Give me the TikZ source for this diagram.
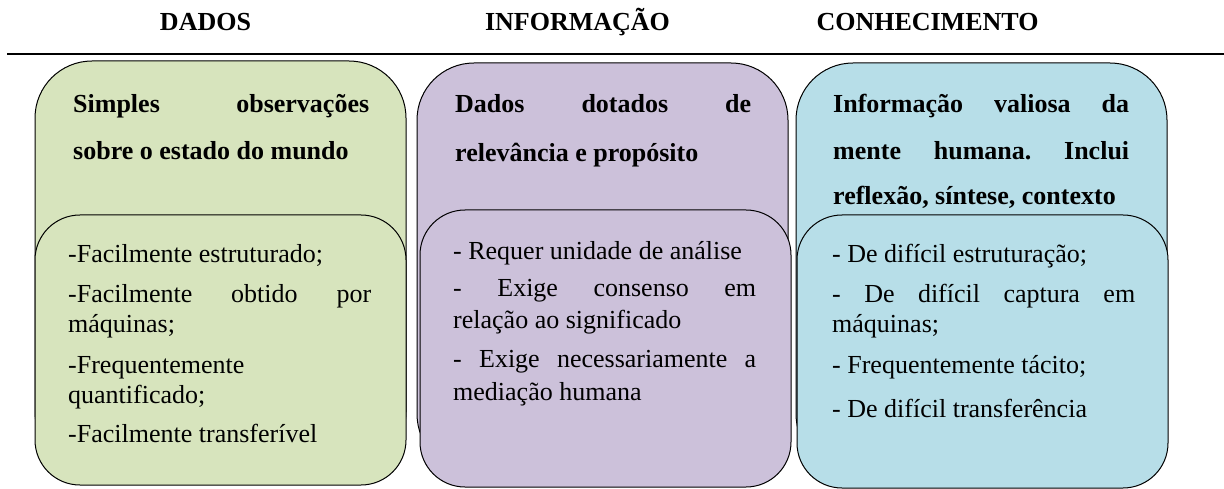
\documentclass[tikz,border=0pt]{standalone}
\usepackage{fontspec}
\setmainfont{Liberation Serif}
\definecolor{cgreen}{HTML}{D7E4BD}
\definecolor{cpurple}{HTML}{CCC1DA}
\definecolor{cblue}{HTML}{B7DEE8}
\newcommand{\JustH}[1]{\makebox[296pt][s]{#1}}
\newcommand{\JustB}[1]{\makebox[303pt][s]{#1}}
\frenchspacing
\begin{document}
\begin{tikzpicture}[x=1pt,y=-1pt,
  outerbox/.style={draw=black, line width=1pt, rounded corners=57pt, fill=#1,
    minimum width=371pt, minimum height=408pt, anchor=north west, inner sep=0pt, outer sep=0pt},
  innerbox/.style={draw=black, line width=1pt, rounded corners=45pt, fill=#1,
    minimum width=371pt, minimum height=272pt, anchor=north west, inner sep=0pt, outer sep=0pt},
  ttl/.style={font=\fontsize{26}{31}\selectfont\bfseries, anchor=base, inner sep=0pt},
  hd/.style={font=\fontsize{26}{31}\selectfont\bfseries, anchor=base west, inner sep=0pt},
  bd/.style={font=\fontsize{26}{31}\selectfont, anchor=base west, inner sep=0pt},
  rule/.style={line width=1.5pt}
]
\useasboundingbox (0,0) rectangle (1224,489);

% titles
\node[ttl] (t1) at (205.5,31) {DADOS};
\node[ttl] (t2) at (577.5,31) {INFORMAÇÃO};
\node[ttl] (t3) at (927.5,31) {CONHECIMENTO};
\coordinate (ruleL) at (7,54);
\coordinate (ruleR) at (1224,54);
\draw[rule] (ruleL) -- (ruleR);

% boxes
\node[outerbox=cgreen] (g1) at (35,61) {};
\node[outerbox=cpurple] (p1) at (417,63) {};
\node[outerbox=cblue] (b1) at (796,63) {};
\node[innerbox=cgreen, minimum height=270pt] (g2) at (35,215) {};
\node[innerbox=cpurple, minimum height=277pt] (p2) at (420,210) {};
\node[innerbox=cblue, minimum height=273pt] (b2) at (797,215) {};

% green text
\node[hd] (gh1) at (73,113) {\JustH{Simples observações}};
\node[hd] (gh2) at (73,160) {sobre o estado do mundo};
\node[bd] (gb1) at (68,263) {-Facilmente estruturado;};
\node[bd] (gb2) at (68,302) {\JustB{-Facilmente obtido por}};
\node[bd] (gb3) at (68,332) {máquinas;};
\node[bd] (gb4) at (68,373) {-Frequentemente};
\node[bd] (gb5) at (68,403) {quantificado;};
\node[bd] (gb6) at (68,442) {-Facilmente transferível};

% purple text
\node[hd] (ph1) at (455,113) {\JustH{Dados dotados de}};
\node[hd] (ph2) at (455,162) {relevância e propósito};
\node[bd] (pb1) at (453,259) {- Requer unidade de análise};
\node[bd] (pb2) at (453,297) {\JustB{- Exige consenso em}};
\node[bd] (pb3) at (453,328) {relação ao significado};
\node[bd] (pb4) at (453,367) {\JustB{- Exige necessariamente a}};
\node[bd] (pb5) at (453,400) {mediação humana};

% blue text
\node[hd] (bh1) at (833,113) {\JustH{Informação valiosa da}};
\node[hd] (bh2) at (833,160) {\JustH{mente humana. Inclui}};
\node[hd] (bh3) at (833,205) {reflexão, síntese, contexto};
\node[bd] (bb1) at (832,262) {- De difícil estruturação;};
\node[bd] (bb2) at (832,302) {\JustB{- De difícil captura em}};
\node[bd] (bb3) at (832,332) {máquinas;};
\node[bd] (bb4) at (832,373) {- Frequentemente tácito;};
\node[bd] (bb5) at (832,417) {- De difícil transferência};
\end{tikzpicture}
\end{document}
